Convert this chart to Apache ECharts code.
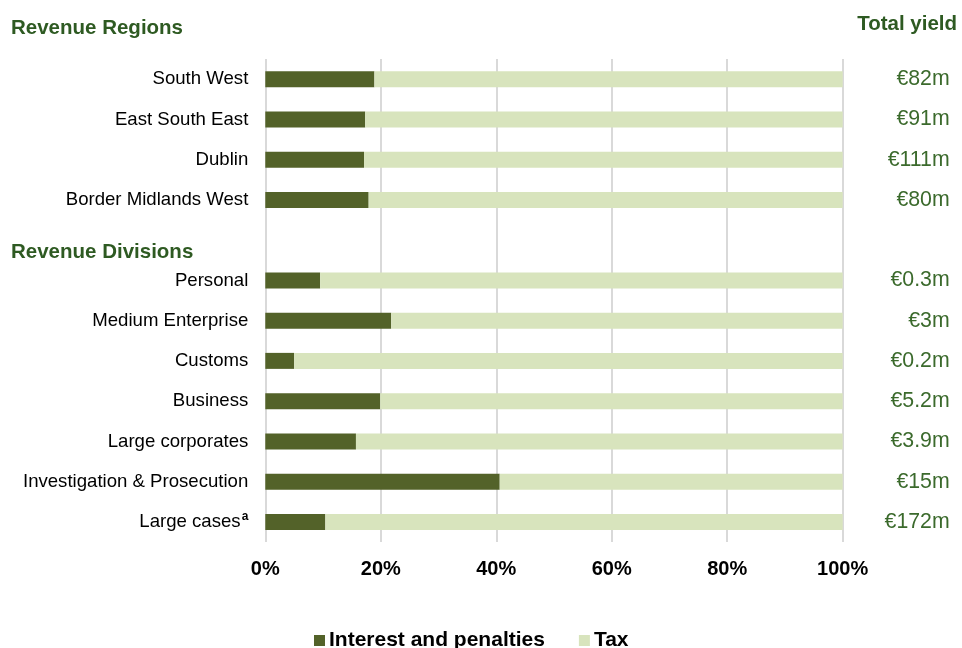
<!DOCTYPE html>
<html>
<head>
<meta charset="utf-8">
<script src="https://cdn.jsdelivr.net/npm/echarts@6/dist/echarts.min.js"></script>
<style>html,body{margin:0;padding:0;background:#fff}#chart{width:962px;height:648px}</style>
</head>
<body>
<div id="chart"></div>
<script>
const categories = ['South West','East South East','Dublin','Border Midlands West','','Personal','Medium Enterprise','Customs','Business','Large corporates','Investigation & Prosecution','Large cases'];
const interestPenalties = [18.9, 17.3, 17.1, 17.9, null, 9.5, 21.8, 5.0, 19.9, 15.7, 40.6, 10.4];
const tax = [81.1, 82.7, 82.9, 82.1, null, 90.5, 78.2, 95.0, 80.1, 84.3, 59.4, 89.6];
const totalYield = ['€82m','€91m','€111m','€80m','','€0.3m','€3m','€0.2m','€5.2m','€3.9m','€15m','€172m'];
const xTicks = [0, 20, 40, 60, 80, 100];

const FONT = '"Liberation Sans", Arial, sans-serif';
const chart = echarts.init(document.getElementById('chart'), null, {renderer: 'canvas'});
chart.setOption({
  animation: false,
  textStyle: {fontFamily: FONT},
  title: [
    {text: 'Revenue Regions', left: 11, top: 18, padding: 0,
     textStyle: {fontFamily: FONT, fontSize: 20.5, fontWeight: 'bold', color: '#2e5a22'}},
    {text: 'Total yield', right: 5, top: 14, padding: 0,
     textStyle: {fontFamily: FONT, fontSize: 20.5, fontWeight: 'bold', color: '#2e5a22'}},
    {text: 'Revenue Divisions', left: 11, top: 242, padding: 0,
     textStyle: {fontFamily: FONT, fontSize: 20.5, fontWeight: 'bold', color: '#2e5a22'}}
  ],
  legend: {
    left: 309, top: 625,
    itemWidth: 11, itemHeight: 11, itemGap: 34,
    icon: 'rect',
    textStyle: {fontFamily: FONT, fontSize: 21, fontWeight: 'bold', color: '#000', padding: [0,0,0,-1]},
    data: ['Interest and penalties', 'Tax']
  },
  grid: {left: 265.3, right: 119.3, top: 59, bottom: 106, containLabel: false},
  xAxis: {
    type: 'value', min: 0, max: 100, interval: 20,
    axisLine: {show: false}, axisTick: {show: false},
    splitLine: {show: true, lineStyle: {color: '#d9d9d9', width: 2}},
    axisLabel: {
      fontFamily: FONT, fontSize: 20, fontWeight: 'bold', color: '#000', margin: 17,
      formatter: v => xTicks.includes(v) ? v + '%' : ''
    }
  },
  yAxis: [
    {
      type: 'category', inverse: true, data: categories,
      axisLine: {show: false}, axisTick: {show: false}, splitLine: {show: false},
      axisLabel: {
        fontFamily: FONT, fontSize: 18.6, color: '#000', margin: 17,
        formatter: v => v === 'Large cases' ? 'Large cases{sup|a}' : v,
        rich: {sup: {fontFamily: FONT, fontSize: 12, fontWeight: 'bold', color: '#000', verticalAlign: 'top', padding: [0,0,10,1]}}
      }
    },
    {
      type: 'category', inverse: true, position: 'right', data: totalYield,
      axisLine: {show: false}, axisTick: {show: false}, splitLine: {show: false},
      axisLabel: {fontFamily: FONT, fontSize: 21.3, color: '#3b6a2c', align: 'right', margin: 107}
    }
  ],
  series: [
    {name: 'Interest and penalties', type: 'bar', stack: 'total', barWidth: 16,
     itemStyle: {color: '#536229'}, data: interestPenalties},
    {name: 'Tax', type: 'bar', stack: 'total', barWidth: 16,
     itemStyle: {color: '#d8e4bd'}, data: tax}
  ]
});
</script>
</body>
</html>
